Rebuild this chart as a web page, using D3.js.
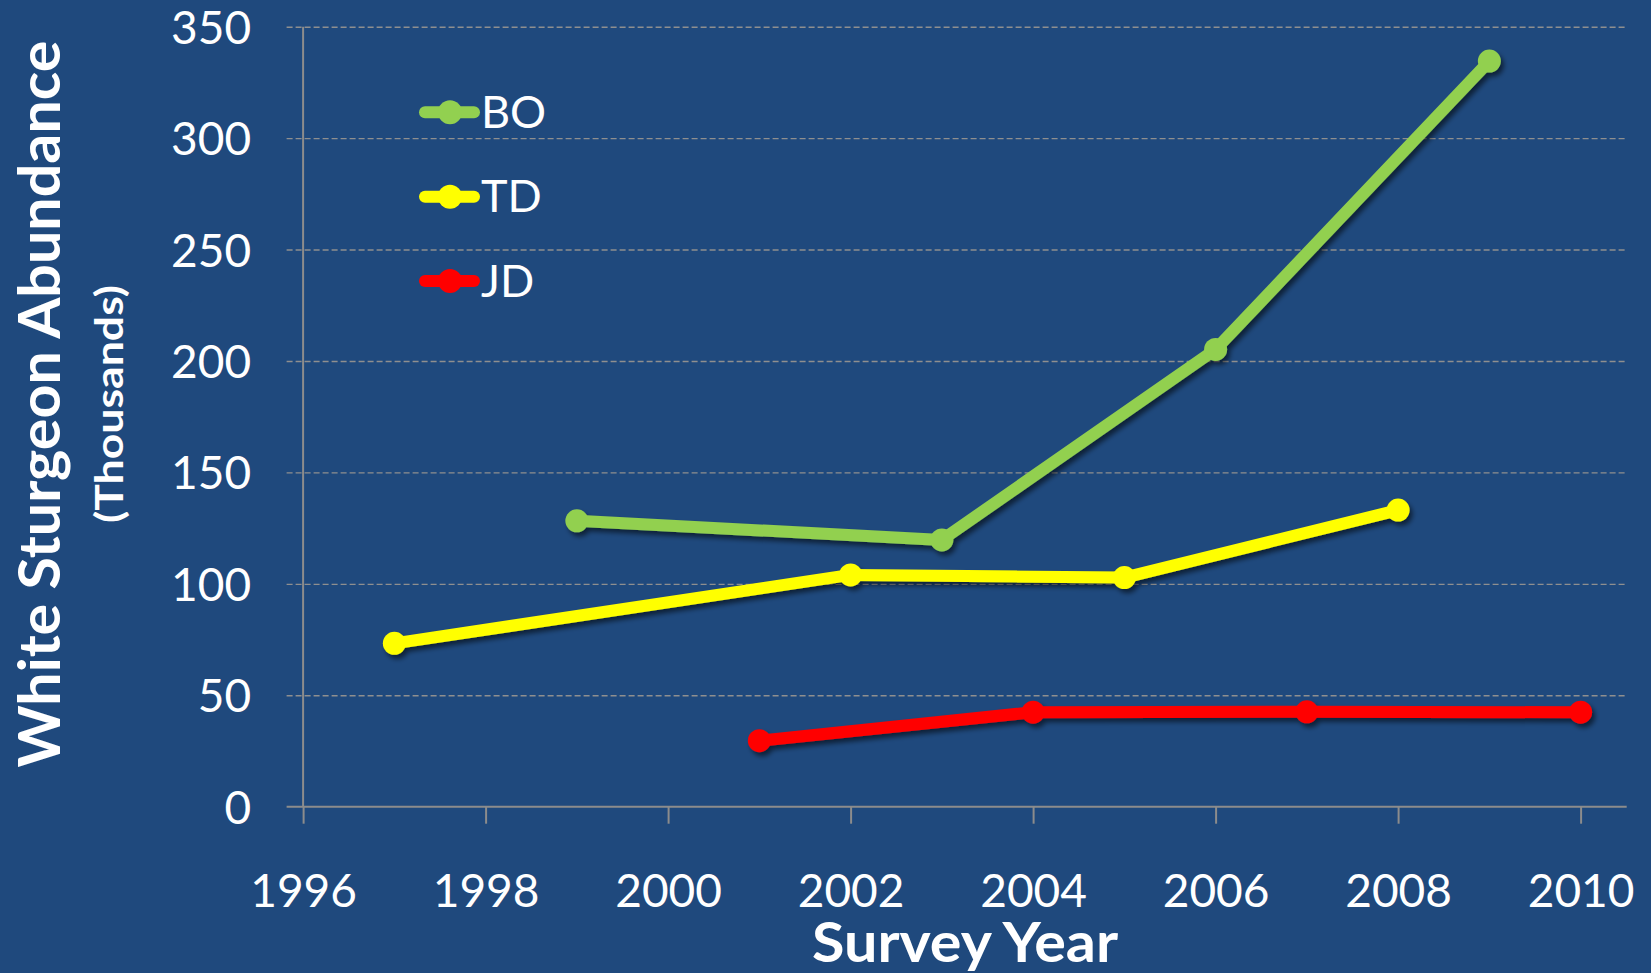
<!DOCTYPE html>
<html>
<head>
<meta charset="utf-8">
<script src="https://cdn.jsdelivr.net/npm/d3@7"></script>
<style>
  html, body { margin: 0; padding: 0; background: #1f497d; }
  svg { display: block; }
</style>
</head>
<body>
<svg id="chart" width="1651" height="973"></svg>
<script>
// ---- data ----
const seriesNames = ["BO", "TD", "JD"];
const boYears = [1999, 2003, 2006, 2009];
const boValues = [128.3, 119.7, 205.2, 334.6];
const tdYears = [1997, 2002, 2005, 2008];
const tdValues = [73.3, 104.0, 102.8, 133.1];
const jdYears = [2001, 2004, 2007, 2010];
const jdValues = [29.6, 42.4, 42.6, 42.4];
const xTicks = [1996, 1998, 2000, 2002, 2004, 2006, 2008, 2010];
const yTicks = [0, 50, 100, 150, 200, 250, 300, 350];
const yTitle = "White Sturgeon Abundance";
const ySubTitle = "(Thousands)";
const xTitle = "Survey Year";

// ---- layout ----
const colors = { BO: "#92d050", TD: "#ffff00", JD: "#ff0000" };
const plotLeft = 303.1, plotRight = 1580.6, gridRight = 1626.7, plotTop = 26.7, plotBottom = 806.7;
const font = "Lato, 'Open Sans', sans-serif";

const svg = d3.select("#chart");
svg.append("rect").attr("width", 1651).attr("height", 973).attr("fill", "#1f497d");

const defs = svg.append("defs");
const f = defs.append("filter").attr("id", "shadow")
  .attr("x", "-10%").attr("y", "-10%").attr("width", "130%").attr("height", "130%");
f.append("feDropShadow").attr("dx", 3).attr("dy", 4).attr("stdDeviation", 2.5)
  .attr("flood-color", "#000").attr("flood-opacity", 0.55);

const x = d3.scaleLinear().domain([1996, 2010]).range([plotLeft, plotRight]);
const y = d3.scaleLinear().domain([0, 350]).range([plotBottom, plotTop]);

// y axis with gridlines
const yAxis = svg.append("g").attr("transform", `translate(${plotLeft},0)`)
  .call(d3.axisLeft(y).tickValues(yTicks).tickSizeInner(-(gridRight - plotLeft)).tickSizeOuter(0));
yAxis.select(".domain").remove();
yAxis.selectAll(".tick line")
  .attr("x1", -16.5)
  .attr("stroke", "#8f8f8f")
  .attr("stroke-width", 1.4)
  .attr("stroke-dasharray", "6,3");
yAxis.selectAll(".tick").filter(d => d === 0).select("line").remove();
yAxis.selectAll(".tick text")
  .attr("x", -52).attr("dy", "0.36em")
  .attr("fill", "#fff").attr("font-family", font).attr("font-size", 46);

// x axis
const xAxis = svg.append("g").attr("transform", `translate(0,${plotBottom})`)
  .call(d3.axisBottom(x).tickValues(xTicks).tickFormat(d3.format("d")).tickSizeInner(17).tickSizeOuter(0));
xAxis.select(".domain").remove();
xAxis.selectAll(".tick line").attr("stroke", "#8c8c8c").attr("stroke-width", 2);
xAxis.selectAll(".tick text")
  .attr("y", 100).attr("dy", 0)
  .attr("fill", "#fff").attr("font-family", font).attr("font-size", 46);

// axis lines
svg.append("line").attr("x1", plotLeft - 16.5).attr("x2", gridRight)
  .attr("y1", y(0)).attr("y2", y(0)).attr("stroke", "#8c8c8c").attr("stroke-width", 2);
svg.append("line").attr("x1", plotLeft).attr("x2", plotLeft)
  .attr("y1", y(350)).attr("y2", y(0)).attr("stroke", "#8c8c8c").attr("stroke-width", 2);

// series
const series = [
  { name: "BO", data: d3.zip(boYears, boValues) },
  { name: "TD", data: d3.zip(tdYears, tdValues) },
  { name: "JD", data: d3.zip(jdYears, jdValues) }
];
const line = d3.line().x(d => x(d[0])).y(d => y(d[1]));
series.slice().reverse().forEach(s => {
  const g = svg.append("g").attr("filter", "url(#shadow)");
  g.append("path").datum(s.data).attr("d", line)
    .attr("fill", "none").attr("stroke", colors[s.name]).attr("stroke-width", 12)
    .attr("stroke-linejoin", "round");
  g.selectAll("circle").data(s.data).join("circle")
    .attr("cx", d => x(d[0])).attr("cy", d => y(d[1])).attr("r", 11.5)
    .attr("fill", colors[s.name]);
});

// legend
const legendY = [112.3, 196.7, 281];
seriesNames.forEach((n, i) => {
  const g = svg.append("g").attr("transform", `translate(0,${legendY[i]})`);
  g.append("line").attr("x1", 425).attr("x2", 474).attr("y1", 0).attr("y2", 0)
    .attr("stroke", colors[n]).attr("stroke-width", 12).attr("stroke-linecap", "round");
  g.append("circle").attr("cx", 450).attr("cy", 0).attr("r", 12).attr("fill", colors[n]);
  g.append("text").attr("x", 481).attr("y", 15.5).text(n)
    .attr("fill", "#fff").attr("font-family", font).attr("font-size", 45);
});

// titles
svg.append("text")
  .attr("transform", "translate(60,404) rotate(-90)")
  .attr("text-anchor", "middle")
  .attr("textLength", 727).attr("lengthAdjust", "spacingAndGlyphs")
  .attr("fill", "#fff").attr("font-family", font).attr("font-weight", "bold").attr("font-size", 58)
  .text(yTitle);
svg.append("text")
  .attr("transform", "translate(123,404) rotate(-90)")
  .attr("text-anchor", "middle")
  .attr("textLength", 238).attr("lengthAdjust", "spacingAndGlyphs")
  .attr("fill", "#fff").attr("font-family", font).attr("font-weight", "bold").attr("font-size", 39)
  .text(ySubTitle);
svg.append("text")
  .attr("x", 965).attr("y", 962)
  .attr("text-anchor", "middle")
  .attr("textLength", 306).attr("lengthAdjust", "spacingAndGlyphs")
  .attr("fill", "#fff").attr("font-family", font).attr("font-weight", "bold").attr("font-size", 55)
  .text(xTitle);
</script>
</body>
</html>
